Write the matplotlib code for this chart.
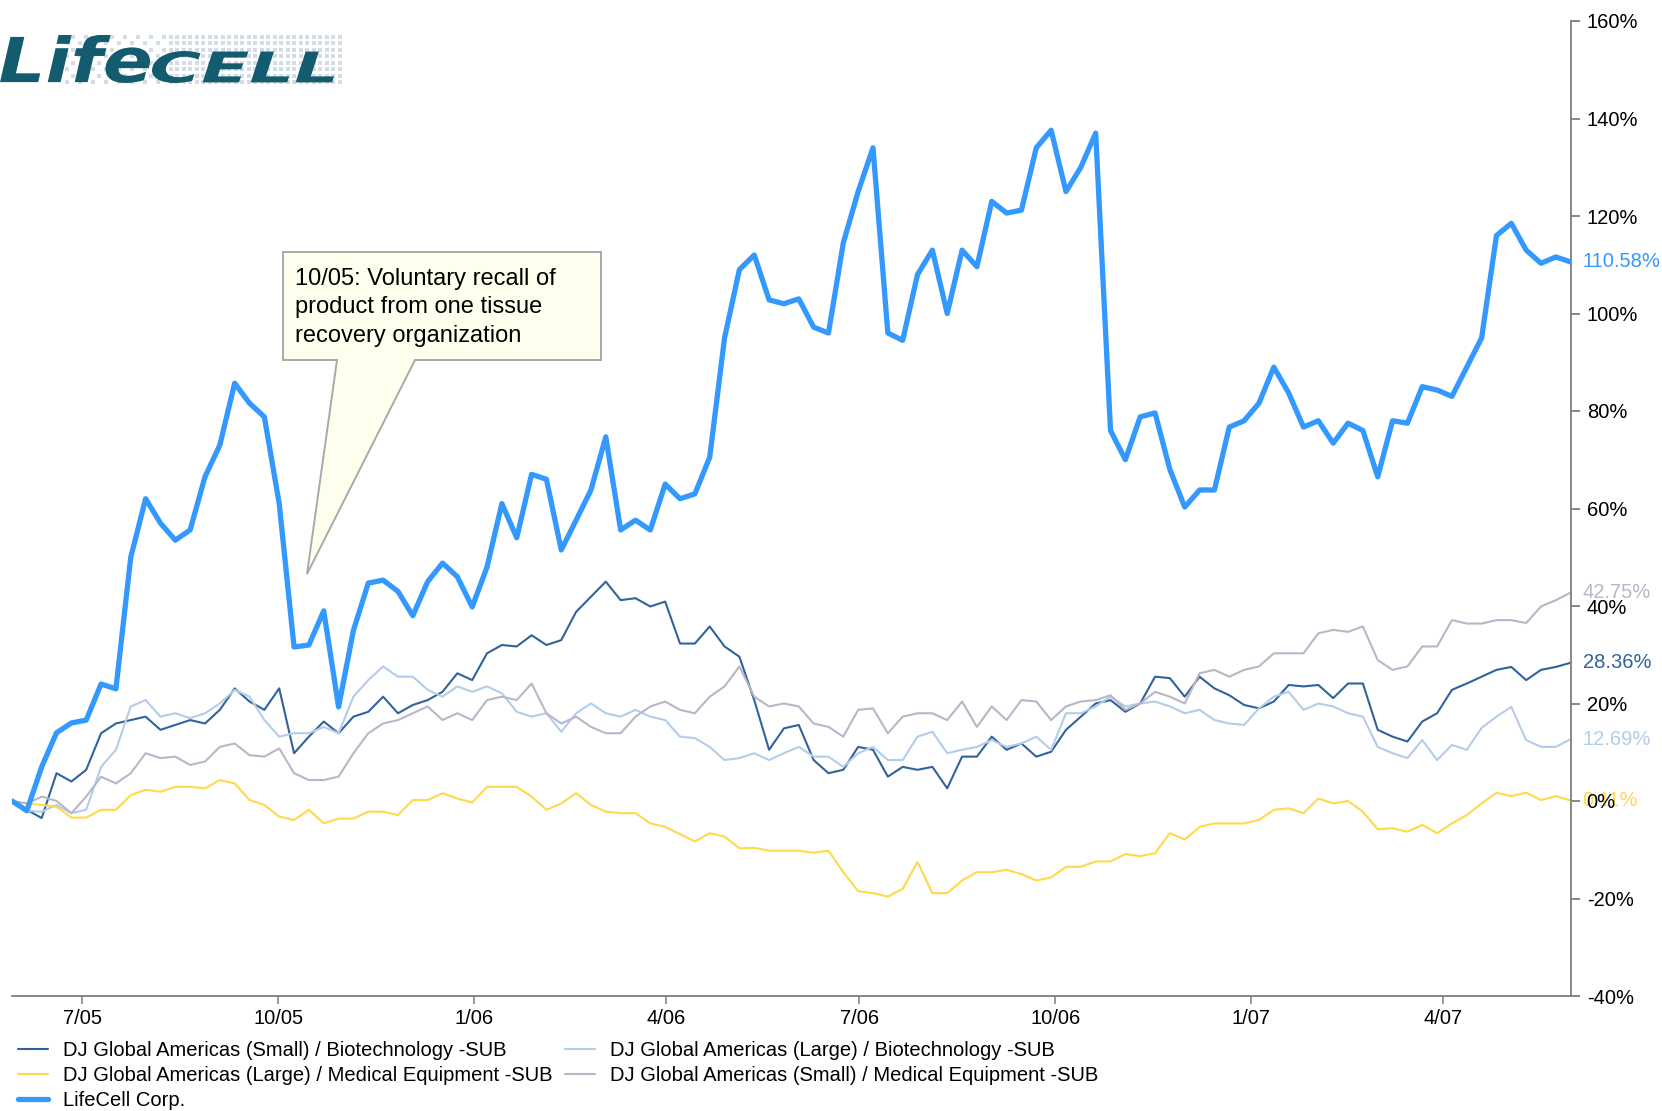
import numpy as np
import pandas as pd
import matplotlib
matplotlib.use("Agg")
import matplotlib.pyplot as plt
from matplotlib.lines import Line2D
from matplotlib.patches import Polygon, PathPatch
from matplotlib.textpath import TextPath
from matplotlib.font_manager import FontProperties
import matplotlib.transforms as mtransforms

plt.rcParams["font.family"] = ["Liberation Sans", "DejaVu Sans"]

# ── Data (cumulative % change, sampled roughly weekly) ─────────────────────
dates = pd.date_range("2005-05-29", "2007-05-31", periods=106)

small_biotech = [0, -1.8, -3.5, 5.7, 4, 6.4, 13.9, 15.9, 16.6, 17.3,
                 14.6, 15.6, 16.6, 15.9, 18.7, 23.1, 20.4, 18.7, 23.1, 9.8,
                 13.2, 16.3, 13.9, 17.3, 18.3, 21.4, 18, 19.7, 20.7, 22.4,
                 26.2, 24.8, 30.3, 32, 31.7, 34, 32, 33, 38.8, 41.9,
                 45, 41.2, 41.6, 39.9, 40.9, 32.3, 32.3, 35.8, 31.7, 29.6,
                 20.7, 10.5, 14.9, 15.6, 8.4, 5.7, 6.4, 11.1, 10.5, 5,
                 7, 6.4, 7, 2.6, 9.1, 9.1, 13.2, 10.5, 11.8, 9.1,
                 10.1, 14.6, 17.3, 20, 20.7, 18.3, 20, 25.5, 25.2, 21.4,
                 25.5, 23.1, 21.7, 19.7, 19, 20.4, 23.8, 23.5, 23.8, 21.1,
                 24.1, 24.1, 14.6, 13.2, 12.2, 16.3, 18, 22.8, 24.1, 25.5,
                 26.9, 27.5, 24.8, 26.9, 27.5, 28.36]

large_biotech = [0.3, -2, -2.2, -0.8, -2.5, -1.8, 7, 10.5, 19.4, 20.7,
                 17.3, 18, 17, 18, 20, 22.8, 21.4, 16.6, 13.2, 13.9,
                 13.9, 15.2, 13.9, 21.4, 24.8, 27.6, 25.5, 25.5, 22.8, 21.4,
                 23.5, 22.4, 23.5, 22.1, 18.3, 17.3, 18, 14.2, 18, 20,
                 18, 17.3, 18.7, 17.3, 16.6, 13.2, 12.9, 11.1, 8.4, 8.8,
                 9.8, 8.4, 9.8, 11.1, 9.1, 9.1, 7, 9.8, 11.1, 8.4,
                 8.4, 13.2, 14.2, 9.8, 10.5, 11.1, 12.5, 11.1, 11.8, 13.2,
                 10.5, 18, 18, 19.4, 21.4, 19.4, 20, 20.4, 19.4, 18,
                 18.7, 16.6, 15.9, 15.6, 19, 21.4, 22.4, 18.7, 20, 19.4,
                 18, 17.3, 11.1, 9.8, 8.8, 12.5, 8.4, 11.5, 10.5, 15,
                 17.3, 19.3, 12.5, 11.1, 11.1, 12.69]

large_medical = [0, -0.5, -0.8, -1.2, -3.4, -3.4, -1.8, -1.8, 1.2, 2.3,
                 1.9, 2.9, 2.9, 2.6, 4.3, 3.6, 0.2, -0.8, -3.2, -3.9,
                 -1.8, -4.6, -3.6, -3.6, -2.2, -2.2, -2.9, 0.2, 0.2, 1.6,
                 0.5, -0.3, 2.9, 2.9, 2.9, 0.9, -1.8, -0.5, 1.6, -0.8,
                 -2.2, -2.5, -2.5, -4.6, -5.3, -6.8, -8.3, -6.6, -7.3, -9.7,
                 -9.6, -10.2, -10.2, -10.2, -10.6, -10.2, -14.6, -18.5, -18.9, -19.6,
                 -18, -12.5, -18.9, -18.9, -16.3, -14.6, -14.6, -14.1, -15, -16.3,
                 -15.7, -13.5, -13.5, -12.4, -12.4, -10.9, -11.3, -10.7, -6.6, -7.9,
                 -5.3, -4.6, -4.6, -4.6, -3.9, -1.8, -1.5, -2.5, 0.5, -0.5,
                 0, -2.2, -5.8, -5.6, -6.3, -4.9, -6.6, -4.6, -2.9, -0.5,
                 1.7, 1, 1.7, 0.2, 1, 0.11]

small_medical = [0, -0.5, 0.9, 0, -2.5, 0.9, 5, 3.6, 5.7, 9.8,
                 8.8, 9.1, 7.4, 8.1, 11.1, 11.8, 9.4, 9.1, 10.8, 5.7,
                 4.3, 4.3, 5, 9.8, 13.9, 15.9, 16.6, 18, 19.4, 16.6,
                 18, 16.6, 20.7, 21.4, 20.7, 24.1, 18, 15.9, 17.3, 15.2,
                 13.9, 13.9, 17.3, 19.4, 20.4, 18.7, 18, 21.4, 23.5, 27.6,
                 21.4, 19.4, 20, 19.4, 15.9, 15.2, 13.2, 18.7, 19, 13.9,
                 17.3, 18, 18, 16.6, 20.4, 15.2, 19.4, 16.6, 20.7, 20.4,
                 16.6, 19.4, 20.4, 20.7, 21.7, 18.7, 20, 22.4, 21.4, 20,
                 26.2, 26.9, 25.5, 26.9, 27.6, 30.3, 30.3, 30.3, 34.4, 35.1,
                 34.7, 35.8, 28.9, 26.9, 27.6, 31.7, 31.7, 37.1, 36.4, 36.4,
                 37.1, 37.1, 36.5, 39.9, 41.2, 42.75]

lifecell = [0, -2, 7, 14, 16, 16.6, 24, 23, 50, 62,
            57, 53.5, 55.6, 66.5, 73, 85.7, 81.6, 78.8, 61, 31.6,
            32, 39, 19.3, 35, 44.7, 45.3, 43, 38, 45, 48.8,
            46, 39.8, 48, 61, 54, 67, 66, 51.5, 57.6, 63.8,
            74.7, 55.6, 57.6, 55.6, 65, 62, 63, 70.5, 95, 109,
            112, 102.8, 102, 103, 97.2, 96, 114.5, 125, 134, 96,
            94.5, 108, 113, 100, 113, 109.6, 123, 120.6, 121.2, 134,
            137.6, 125, 130, 137, 76, 70, 78.8, 79.6, 68, 60.3,
            63.8, 63.8, 76.7, 78, 81.6, 89, 83.7, 76.7, 78, 73.4,
            77.5, 76, 66.5, 78, 77.5, 85, 84.3, 83, 89, 95,
            116, 118.5, 113, 110.3, 111.6, 110.58]

series_names = ["DJ Global Americas (Small) / Biotechnology -SUB",
                "DJ Global Americas (Large) / Biotechnology -SUB",
                "DJ Global Americas (Large) / Medical Equipment -SUB",
                "DJ Global Americas (Small) / Medical Equipment -SUB",
                "LifeCell Corp."]
series_values = [small_biotech, large_biotech, large_medical, small_medical, lifecell]
series_colors = ["#30639c", "#b3cde9", "#ffd94a", "#b9b6c8", "#3399ff"]
series_widths = [1.5, 1.5, 1.5, 1.5, 3.8]

tick_dates = ["2005-07-01", "2005-10-01", "2006-01-01", "2006-04-01",
              "2006-07-01", "2006-10-01", "2007-01-01", "2007-04-01"]
tick_labels = ["7/05", "10/05", "1/06", "4/06", "7/06", "10/06", "1/07", "4/07"]
y_ticks = list(range(-40, 161, 20))

note_text = "10/05: Voluntary recall of\nproduct from one tissue\nrecovery organization"

# ── Figure ────────────────────────────────────────────────────────────────
W, H = 1662, 1111
fig = plt.figure(figsize=(W / 100, H / 100), dpi=100)
fig.patch.set_facecolor("white")


def fpx(x, y):
    """pixel (from top-left) -> figure fraction"""
    return (x / W, 1 - y / H)


ax = fig.add_axes([12 / W, 1 - 996 / H, (1570.7 - 12) / W, (996 - 21) / H])

for vals, col, lw in zip(series_values, series_colors, series_widths):
    ax.plot(dates, vals, color=col, lw=lw, solid_joinstyle="round",
            solid_capstyle="round", zorder=3 if lw > 2 else 2)

ax.set_xlim(pd.Timestamp("2005-05-29"), pd.Timestamp("2007-05-31"))
ax.set_ylim(-40, 160)
ax.set_yticks(y_ticks)
ax.set_yticklabels([f"{v}%" for v in y_ticks])
ax.yaxis.tick_right()
ax.set_xticks(pd.to_datetime(tick_dates))
ax.set_xticklabels(tick_labels)

for s in ["left", "top"]:
    ax.spines[s].set_visible(False)
for s in ["right", "bottom"]:
    ax.spines[s].set_color("#7f7f7f")
    ax.spines[s].set_linewidth(1.3)

ax.tick_params(axis="y", direction="out", length=6.5, width=1.3, color="#7f7f7f",
               labelcolor="black", labelsize=14.5, pad=5)
ax.tick_params(axis="x", direction="out", length=6, width=1.1, color="#7f7f7f",
               labelcolor="black", labelsize=14.5, pad=3)

# end-of-series value labels (drawn beneath the tick labels, as in the source)
for vals, col in zip(series_values, series_colors):
    ax.annotate(f"{vals[-1]:.2f}%", xy=(1, vals[-1]),
                xycoords=ax.get_yaxis_transform(), xytext=(12, 0),
                textcoords="offset pixels", va="center", ha="left",
                color=col, fontsize=14.5, zorder=1, annotation_clip=False)

# ── Callout box ───────────────────────────────────────────────────────────
callout = [fpx(283, 252), fpx(601, 252), fpx(601, 360), fpx(415, 360),
           fpx(307, 574), fpx(337, 360), fpx(283, 360)]
fig.patches.append(Polygon(callout, closed=True, transform=fig.transFigure,
                           facecolor="#ffffee", edgecolor="#a9a9a9", lw=1.4,
                           zorder=5))
fig.text(*fpx(295, 268), note_text, fontsize=17, va="top", ha="left",
         color="black", linespacing=1.38, zorder=6)

# ── Legend ────────────────────────────────────────────────────────────────
handles = [Line2D([], [], color=c, lw=w, solid_capstyle="round")
           for c, w in zip(series_colors, series_widths)]
order = [0, 2, 4, 1, 3]
fig.legend([handles[i] for i in order], [series_names[i] for i in order],
           loc="upper left", bbox_to_anchor=fpx(18, 1041), ncol=2,
           frameon=False, fontsize=14.5, handlelength=1.5, handletextpad=0.75,
           columnspacing=0.6, labelspacing=0.3, borderaxespad=0, borderpad=0)

# ── Logo ──────────────────────────────────────────────────────────────────
lax = fig.add_axes([0, 1 - 92 / H, 345 / W, 62 / H])
lax.set_xlim(0, 345)
lax.set_ylim(0, 62)
lax.axis("off")

gx, gy = np.meshgrid(np.arange(60, 340, 6.5), np.arange(10, 58, 6.5))
keep = (gx > 170) | ((np.round(gx / 6.5) + np.round(gy / 6.5)) % 2 == 0)
lax.scatter(gx[keep], gy[keep], s=7, marker="s", color="#d3dde5", lw=0, zorder=1)

fp = FontProperties(family="DejaVu Sans", weight="bold", style="italic")
logo_color = "#135b6e"
for word, x0, w, h in [("Life", 0, 150, 48), ("CELL", 152, 182, 32)]:
    tp = TextPath((0, 0), word, size=1, prop=fp)
    bb = tp.get_extents()
    tr = (mtransforms.Affine2D().translate(-bb.x0, -bb.y0)
          .scale(w / bb.width, h / bb.height).translate(x0, 9))
    lax.add_patch(PathPatch(tr.transform_path(tp), facecolor=logo_color,
                            lw=0, zorder=2))

fig.savefig("out.png", dpi=100, facecolor="white")
